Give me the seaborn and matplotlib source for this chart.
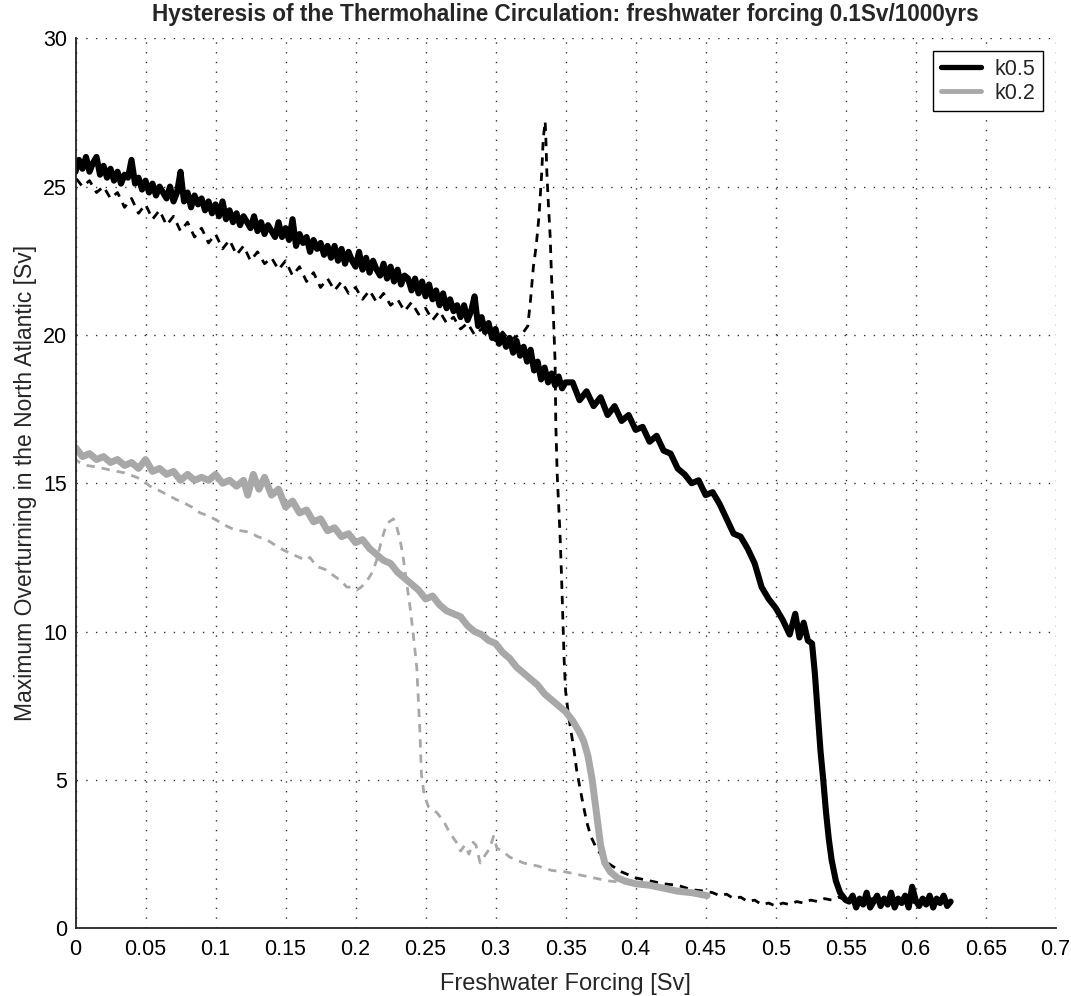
import numpy as np
import pandas as pd
import matplotlib
matplotlib.use("Agg")
import matplotlib.pyplot as plt
import seaborn as sns
from matplotlib.lines import Line2D

# ---------------- data ----------------
# k = 0.5 : forcing increasing (on-branch collapse near 0.53 Sv)
k05_up_x = [0.0000, 0.0025, 0.0050, 0.0075, 0.0100, 0.0125, 0.0150, 0.0175, 0.0200, 0.0225,
            0.0250, 0.0275, 0.0300, 0.0325, 0.0350, 0.0375, 0.0400, 0.0425, 0.0450, 0.0475,
            0.0500, 0.0525, 0.0550, 0.0575, 0.0600, 0.0625, 0.0650, 0.0675, 0.0700, 0.0725,
            0.0750, 0.0775, 0.0800, 0.0825, 0.0850, 0.0875, 0.0900, 0.0925, 0.0950, 0.0975,
            0.1000, 0.1025, 0.1050, 0.1075, 0.1100, 0.1125, 0.1150, 0.1175, 0.1200, 0.1225,
            0.1250, 0.1275, 0.1300, 0.1325, 0.1350, 0.1375, 0.1400, 0.1425, 0.1450, 0.1475,
            0.1500, 0.1525, 0.1550, 0.1575, 0.1600, 0.1625, 0.1650, 0.1675, 0.1700, 0.1725,
            0.1750, 0.1775, 0.1800, 0.1825, 0.1850, 0.1875, 0.1900, 0.1925, 0.1950, 0.1975,
            0.2000, 0.2025, 0.2050, 0.2075, 0.2100, 0.2125, 0.2150, 0.2175, 0.2200, 0.2225,
            0.2250, 0.2275, 0.2300, 0.2325, 0.2350, 0.2375, 0.2400, 0.2425, 0.2450, 0.2475,
            0.2500, 0.2525, 0.2550, 0.2575, 0.2600, 0.2625, 0.2650, 0.2675, 0.2700, 0.2725,
            0.2750, 0.2775, 0.2800, 0.2825, 0.2850, 0.2875, 0.2900, 0.2925, 0.2950, 0.2975,
            0.3000, 0.3025, 0.3050, 0.3075, 0.3100, 0.3125, 0.3150, 0.3175, 0.3200, 0.3225,
            0.3250, 0.3275, 0.3300, 0.3325, 0.3350, 0.3375, 0.3400, 0.3425, 0.3450, 0.3475,
            0.350, 0.355, 0.360, 0.365, 0.370, 0.375, 0.380, 0.385, 0.390, 0.395,
            0.400, 0.405, 0.410, 0.415, 0.420, 0.425, 0.430, 0.435, 0.440, 0.445,
            0.450, 0.455, 0.460, 0.465, 0.470, 0.475, 0.480, 0.485, 0.490, 0.495,
            0.500, 0.505, 0.510, 0.514, 0.517, 0.520, 0.523, 0.526, 0.528, 0.530,
            0.532, 0.534, 0.536, 0.538, 0.540, 0.543, 0.546, 0.550,
            0.5525, 0.555, 0.5575, 0.560, 0.5625, 0.565, 0.5675, 0.570, 0.5725, 0.575,
            0.5775, 0.580, 0.5825, 0.585, 0.5875, 0.590, 0.5925, 0.595, 0.5975, 0.600,
            0.6025, 0.605, 0.6075, 0.610, 0.6125, 0.615, 0.6175, 0.620, 0.6225, 0.625]
k05_up_y = [25.5, 25.9, 25.6, 26.0, 25.5, 25.8, 26.0, 25.4, 25.7, 25.3,
            25.6, 25.2, 25.5, 25.1, 25.4, 25.3, 25.9, 25.1, 25.3, 24.9,
            25.2, 24.8, 25.1, 24.7, 25.0, 24.8, 24.6, 25.0, 24.5, 24.8,
            25.5, 24.5, 24.8, 24.3, 24.7, 24.4, 24.6, 24.2, 24.5, 24.1,
            24.4, 24.0, 24.5, 23.9, 24.2, 23.8, 24.1, 23.7, 24.0, 23.8,
            23.6, 24.0, 23.5, 23.8, 23.4, 23.7, 23.5, 23.3, 23.8, 23.3,
            23.6, 23.2, 23.9, 23.0, 23.4, 23.1, 23.3, 22.8, 23.2, 22.9,
            23.1, 22.7, 23.0, 22.6, 23.0, 22.5, 22.9, 22.4, 22.8, 22.5,
            22.3, 22.8, 22.2, 22.6, 22.1, 22.5, 22.2, 22.0, 22.4, 21.9,
            22.3, 21.8, 22.2, 21.7, 22.0, 21.9, 21.5, 21.9, 21.4, 21.8,
            21.3, 21.7, 21.2, 21.5, 21.0, 21.4, 20.9, 21.2, 20.8, 21.0,
            20.6, 21.0, 20.5, 20.8, 21.3, 20.3, 20.6, 20.1, 20.4, 19.9,
            20.2, 19.7, 20.0, 19.6, 19.9, 19.4, 19.8, 19.3, 19.6, 19.1,
            19.5, 18.8, 19.1, 18.5, 18.9, 18.4, 18.7, 18.3, 18.6, 18.2,
            18.4, 18.4, 17.8, 18.1, 17.6, 17.9, 17.3, 17.6, 17.1, 17.3,
            16.8, 16.9, 16.4, 16.6, 16.1, 16.0, 15.5, 15.3, 15.0, 15.1,
            14.6, 14.7, 14.3, 13.8, 13.3, 13.2, 12.8, 12.3, 11.5, 11.1,
            10.8, 10.4, 9.9, 10.6, 9.8, 10.3, 9.7, 9.6, 8.6, 7.3,
            6.0, 5.0, 3.9, 3.0, 2.3, 1.6, 1.2, 0.95,
            0.9, 1.1, 0.7, 1.0, 0.8, 1.2, 0.7, 0.9, 1.1, 0.75,
            1.0, 0.8, 1.2, 0.7, 1.0, 0.85, 1.1, 0.7, 1.4, 0.95,
            0.75, 1.0, 0.8, 1.1, 0.7, 1.0, 0.85, 1.1, 0.75, 0.9]

# k = 0.5 : forcing decreasing (recovery with overshoot near 0.335 Sv)
k05_down_x = [0.625, 0.610, 0.600, 0.590, 0.580, 0.570, 0.560, 0.550, 0.545, 0.540,
              0.535, 0.530, 0.525, 0.520, 0.515, 0.510, 0.505, 0.500, 0.495, 0.490,
              0.485, 0.480, 0.475, 0.470, 0.465, 0.460, 0.455, 0.450, 0.440, 0.430,
              0.420, 0.410, 0.400, 0.390, 0.380, 0.375, 0.372, 0.368, 0.365, 0.362,
              0.360, 0.358, 0.356, 0.354, 0.352, 0.350, 0.349, 0.348, 0.347, 0.346,
              0.345, 0.344, 0.343, 0.3425, 0.341, 0.340, 0.339, 0.3375, 0.3366, 0.336,
              0.3354, 0.334, 0.333, 0.331, 0.329, 0.327, 0.325, 0.323, 0.320, 0.317,
              0.313, 0.310, 0.305, 0.300, 0.295, 0.290, 0.285, 0.280, 0.275, 0.270,
              0.265, 0.260, 0.255, 0.250, 0.245, 0.240, 0.235, 0.230, 0.225, 0.220,
              0.215, 0.210, 0.205, 0.200, 0.195, 0.190, 0.185, 0.180, 0.175, 0.170,
              0.165, 0.160, 0.155, 0.150, 0.145, 0.140, 0.135, 0.130, 0.125, 0.120,
              0.115, 0.110, 0.105, 0.100, 0.095, 0.090, 0.085, 0.080, 0.075, 0.070,
              0.065, 0.060, 0.055, 0.050, 0.045, 0.040, 0.035, 0.030, 0.025, 0.020,
              0.015, 0.010, 0.005, 0.000]
k05_down_y = [0.9, 0.95, 0.85, 1.0, 0.9, 1.0, 0.95, 0.95, 1.05, 0.95,
              1.0, 0.9, 0.95, 0.85, 0.9, 0.8, 0.85, 0.75, 0.85, 0.8,
              0.95, 0.9, 1.05, 1.0, 1.15, 1.1, 1.2, 1.25, 1.3, 1.45,
              1.5, 1.6, 1.7, 1.9, 2.2, 2.5, 2.7, 3.1, 3.6, 4.3,
              4.8, 5.3, 6.0, 6.6, 7.2, 8.0, 9.0, 10.5, 12.0, 13.3,
              14.3, 15.3, 17.0, 19.1, 21.0, 21.9, 23.3, 24.6, 25.5, 26.5,
              27.2, 26.6, 25.5, 24.0, 23.0, 22.3, 21.2, 20.3, 20.1, 20.0,
              19.9, 19.8, 20.1, 19.8, 20.0, 20.2, 20.0, 20.4, 20.2, 20.6,
              20.4, 20.8, 20.5, 20.9, 20.7, 21.1, 20.8, 21.2, 21.0, 21.4,
              21.1, 21.5, 21.2, 21.6, 21.4, 21.8, 21.5, 21.9, 21.6, 22.1,
              21.8, 22.3, 22.0, 22.5, 22.2, 22.6, 22.4, 22.8, 22.5, 23.0,
              22.7, 23.2, 22.9, 23.4, 23.1, 23.6, 23.3, 23.8, 23.5, 24.0,
              23.7, 24.2, 23.9, 24.4, 24.1, 24.6, 24.3, 24.8, 24.6, 25.0,
              24.8, 25.2, 25.0, 25.3]

# k = 0.2 : forcing increasing
k02_up_x = [0.000, 0.005, 0.010, 0.015, 0.020, 0.025, 0.030, 0.035, 0.040, 0.045,
            0.050, 0.055, 0.060, 0.065, 0.070, 0.075, 0.080, 0.085, 0.090, 0.095,
            0.100, 0.105, 0.110, 0.115, 0.120, 0.123, 0.127, 0.131, 0.135, 0.140,
            0.145, 0.150, 0.155, 0.160, 0.165, 0.170, 0.175, 0.180, 0.185, 0.190,
            0.195, 0.200, 0.205, 0.210, 0.215, 0.220, 0.225, 0.230, 0.235, 0.240,
            0.245, 0.250, 0.255, 0.260, 0.265, 0.270, 0.275, 0.280, 0.285, 0.290,
            0.295, 0.300, 0.305, 0.310, 0.315, 0.320, 0.325, 0.330, 0.335, 0.340,
            0.345, 0.350, 0.355, 0.360, 0.363, 0.366, 0.369, 0.372, 0.375, 0.378,
            0.382, 0.387, 0.392, 0.400, 0.410, 0.420, 0.430, 0.440, 0.451]
k02_up_y = [16.2, 15.9, 16.0, 15.8, 15.9, 15.7, 15.8, 15.6, 15.7, 15.5,
            15.8, 15.4, 15.5, 15.3, 15.4, 15.1, 15.3, 15.1, 15.2, 15.1,
            15.3, 15.0, 15.1, 14.9, 15.1, 14.6, 15.3, 14.8, 15.2, 14.6,
            14.8, 14.2, 14.4, 14.0, 14.1, 13.7, 13.8, 13.4, 13.5, 13.2,
            13.3, 13.0, 13.1, 12.8, 12.6, 12.4, 12.3, 12.0, 11.8, 11.6,
            11.4, 11.1, 11.2, 10.9, 10.7, 10.6, 10.5, 10.2, 10.0, 9.9,
            9.7, 9.6, 9.3, 9.1, 8.8, 8.6, 8.4, 8.2, 7.9, 7.7,
            7.5, 7.3, 7.0, 6.6, 6.3, 5.8, 5.0, 3.9, 2.8, 2.2,
            1.9, 1.7, 1.6, 1.5, 1.45, 1.35, 1.25, 1.2, 1.1]

# k = 0.2 : forcing decreasing
k02_down_x = [0.451, 0.440, 0.430, 0.420, 0.410, 0.400, 0.390, 0.380, 0.370, 0.360,
              0.350, 0.340, 0.330, 0.320, 0.310, 0.305, 0.301, 0.2985, 0.296, 0.293,
              0.289, 0.286, 0.284, 0.281, 0.278, 0.275, 0.272, 0.2675, 0.263, 0.258,
              0.252, 0.249, 0.247, 0.246, 0.2437, 0.241, 0.239, 0.2366, 0.234, 0.2318,
              0.229, 0.227, 0.224, 0.222, 0.2187, 0.215, 0.212, 0.208, 0.204, 0.2009,
              0.197, 0.1937, 0.190, 0.184, 0.178, 0.172, 0.1675, 0.164, 0.160, 0.155,
              0.1484, 0.143, 0.1366, 0.130, 0.1247, 0.118, 0.1128, 0.106, 0.1009, 0.095,
              0.089, 0.083, 0.077, 0.072, 0.066, 0.060, 0.0532, 0.048, 0.0437, 0.035,
              0.0246, 0.015, 0.008, 0.003, 0.000]
k02_down_y = [1.1, 1.2, 1.3, 1.35, 1.4, 1.45, 1.55, 1.6, 1.7, 1.8,
              1.9, 1.95, 2.1, 2.2, 2.4, 2.6, 2.7, 3.1, 2.7, 2.5,
              2.2, 2.8, 2.9, 2.5, 2.8, 2.6, 2.9, 3.2, 3.6, 3.9,
              4.1, 4.5, 5.2, 6.6, 8.8, 10.0, 10.8, 11.6, 12.5, 13.1,
              13.6, 13.8, 13.7, 13.6, 13.1, 12.4, 12.0, 11.7, 11.5, 11.4,
              11.5, 11.5, 11.7, 11.9, 12.1, 12.2, 12.5, 12.4, 12.5, 12.6,
              12.75, 12.9, 13.1, 13.2, 13.35, 13.4, 13.45, 13.6, 13.75, 13.9,
              14.0, 14.2, 14.35, 14.45, 14.6, 14.75, 14.9, 15.1, 15.2, 15.35,
              15.45, 15.55, 15.6, 15.7, 15.8]

x_ticks = [0, 0.05, 0.1, 0.15, 0.2, 0.25, 0.3, 0.35, 0.4, 0.45, 0.5, 0.55, 0.6, 0.65, 0.7]
x_tick_labels = ["0", "0.05", "0.1", "0.15", "0.2", "0.25", "0.3", "0.35",
                 "0.4", "0.45", "0.5", "0.55", "0.6", "0.65", "0.7"]
y_ticks = [0, 5, 10, 15, 20, 25, 30]
y_tick_labels = ["0", "5", "10", "15", "20", "25", "30"]

series_names = ["k0.5", "k0.2"]

# ---------------- style ----------------
sns.set_theme(style="white")
plt.rcParams["font.family"] = ["Liberation Sans", "DejaVu Sans"]

BLACK = "#000000"
GREY = "#a8a8a8"

fig = plt.figure(figsize=(10.71, 9.96), dpi=100)
ax = fig.add_axes([0.0705, 0.0680, 0.9152, 0.8936])

dash = (0, (3, 2.5))

# return branches (dashed), drawn first
sns.lineplot(x=k02_down_x, y=k02_down_y, sort=False, estimator=None, ax=ax,
             color=GREY, linewidth=2.0, linestyle=dash)
sns.lineplot(x=k05_down_x, y=k05_down_y, sort=False, estimator=None, ax=ax,
             color=BLACK, linewidth=2.0, linestyle=dash)
# forward branches (solid)
sns.lineplot(x=k02_up_x, y=k02_up_y, sort=False, estimator=None, ax=ax,
             color=GREY, linewidth=5.0, solid_joinstyle="round")
sns.lineplot(x=k05_up_x, y=k05_up_y, sort=False, estimator=None, ax=ax,
             color=BLACK, linewidth=4.4, solid_joinstyle="round")

ax.set_xlim(0, 0.7)
ax.set_ylim(0, 30)
ax.set_xticks(x_ticks)
ax.set_xticklabels(x_tick_labels)
ax.set_yticks(y_ticks)
ax.set_yticklabels(y_tick_labels)

ax.grid(True, color="#333333", linestyle=(0, (1, 6)), linewidth=1.0)
ax.set_axisbelow(True)

for side in ["top", "right"]:
    ax.spines[side].set_visible(False)
for side in ["left", "bottom"]:
    ax.spines[side].set_color("#222222")
    ax.spines[side].set_linewidth(1.3)

ax.tick_params(axis="both", direction="in", length=7, width=1.1, color="#222222",
               labelsize=15.5, labelcolor="black")
ax.tick_params(axis="x", pad=8)
ax.tick_params(axis="y", pad=6)

ax.set_xlabel("Freshwater Forcing [Sv]", fontsize=17, labelpad=9)
ax.set_ylabel("Maximum Overturning in the North Atlantic [Sv]", fontsize=16.5, labelpad=4)
ax.set_title("Hysteresis of the Thermohaline Circulation: freshwater forcing 0.1Sv/1000yrs",
             fontsize=16.3, fontweight="bold", pad=12.5)

handles = [Line2D([], [], color=BLACK, linewidth=3.8),
           Line2D([], [], color=GREY, linewidth=3.5)]
leg = ax.legend(handles, series_names, loc="upper right", fontsize=15.5,
                frameon=True, fancybox=False, framealpha=1, edgecolor="black",
                borderaxespad=0.6, handlelength=1.9, handletextpad=0.6,
                labelspacing=0.15, borderpad=0.35)
leg.get_frame().set_linewidth(1.0)

fig.savefig("out.png", dpi=100)
